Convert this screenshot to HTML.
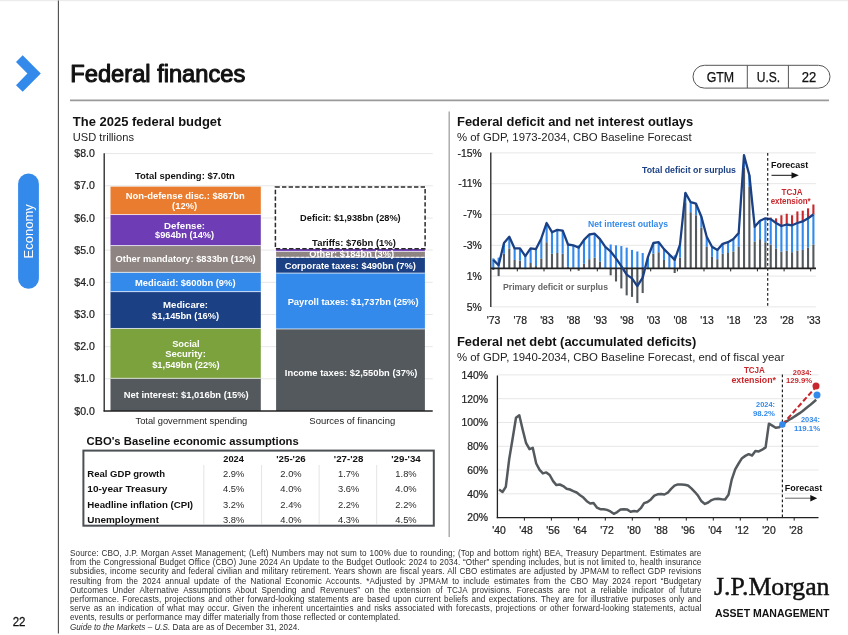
<!DOCTYPE html>
<html lang="en"><head><meta charset="utf-8"><title>Federal finances</title>
<style>
html,body{margin:0;padding:0;background:#fff;}
body{width:848px;height:635px;overflow:hidden;position:relative;font-family:"Liberation Sans",Arial,sans-serif;}
svg{position:absolute;left:0;top:0;will-change:transform;}
svg text{font-family:"Liberation Sans",Arial,sans-serif;}
#foot{position:absolute;left:70px;top:549.25px;width:631.5px;font-size:8.15px;letter-spacing:0.1px;line-height:9.2px;color:#2e2e2e;will-change:transform;}
.fl{text-align:justify;text-align-last:justify;white-space:nowrap;height:9.2px;overflow:visible;}
.fl.last{text-align:left;text-align-last:left;}
</style></head><body>
<svg width="848" height="635" viewBox="0 0 848 635">
<rect x="0" y="0" width="848" height="1.2" fill="#ECECEC"/>
<line x1="58.4" y1="0.5" x2="58.4" y2="633.5" stroke="#4a4a4a" stroke-width="1.1"/>
<polygon points="22.7,55.2 40.8,73.4 22.7,91.8 16,85.2 27.4,73.4 16,61.9" fill="#338AEA"/>
<text x="70.3" y="82.2" font-size="23.5" font-weight="normal" fill="#111" text-anchor="start" textLength="175" lengthAdjust="spacingAndGlyphs" stroke="#111" stroke-width="1.05" stroke-linejoin="round">Federal finances</text>
<line x1="70" y1="100.4" x2="829" y2="100.4" stroke="#9a9a9a" stroke-width="1.6"/>
<rect x="693" y="65.3" width="137" height="22.8" rx="11.4" fill="#fff" stroke="#555" stroke-width="1"/>
<line x1="747.3" y1="65.3" x2="747.3" y2="88.1" stroke="#555" stroke-width="1"/>
<line x1="788.4" y1="65.3" x2="788.4" y2="88.1" stroke="#555" stroke-width="1"/>
<text x="720.4" y="82.3" font-size="14" font-weight="normal" fill="#111" text-anchor="middle" textLength="27.5" lengthAdjust="spacingAndGlyphs" stroke="#111" stroke-width="0.25">GTM</text>
<text x="768.4" y="82.3" font-size="14" font-weight="normal" fill="#111" text-anchor="middle" textLength="23.4" lengthAdjust="spacingAndGlyphs" stroke="#111" stroke-width="0.25">U.S.</text>
<text x="809" y="82.3" font-size="14" font-weight="normal" fill="#111" text-anchor="middle" textLength="14.5" lengthAdjust="spacingAndGlyphs" stroke="#111" stroke-width="0.25">22</text>
<rect x="18.1" y="173.5" width="20.8" height="115.3" rx="10.4" fill="#338AEA"/>
<text transform="translate(33.4,231.4) rotate(-90)" font-size="12.6" fill="#fff" text-anchor="middle" textLength="54.3" lengthAdjust="spacingAndGlyphs">Economy</text>
<text x="12.7" y="626.2" font-size="13" font-weight="normal" fill="#111" text-anchor="start" textLength="12.8" lengthAdjust="spacingAndGlyphs" stroke="#111" stroke-width="0.3">22</text>
<line x1="449.2" y1="111.5" x2="449.2" y2="537" stroke="#a6a6a6" stroke-width="1.4"/>
<text x="72.8" y="125.5" font-size="13" font-weight="bold" fill="#111" text-anchor="start" textLength="148.6" lengthAdjust="spacingAndGlyphs" >The 2025 federal budget</text>
<text x="72.8" y="141" font-size="10.5" font-weight="normal" fill="#222" text-anchor="start" textLength="61.2" lengthAdjust="spacingAndGlyphs" >USD trillions</text>
<text x="94.8" y="414.6" font-size="10.2" font-weight="normal" fill="#222" text-anchor="end" textLength="20.5" lengthAdjust="spacingAndGlyphs" stroke="#222" stroke-width="0.22">$0.0</text>
<line x1="104.2" y1="378.8" x2="432.7" y2="378.8" stroke="#E7E7E7" stroke-width="1"/>
<text x="94.8" y="382.43" font-size="10.2" font-weight="normal" fill="#222" text-anchor="end" textLength="20.5" lengthAdjust="spacingAndGlyphs" stroke="#222" stroke-width="0.22">$1.0</text>
<line x1="104.2" y1="346.7" x2="432.7" y2="346.7" stroke="#E7E7E7" stroke-width="1"/>
<text x="94.8" y="350.26" font-size="10.2" font-weight="normal" fill="#222" text-anchor="end" textLength="20.5" lengthAdjust="spacingAndGlyphs" stroke="#222" stroke-width="0.22">$2.0</text>
<line x1="104.2" y1="314.5" x2="432.7" y2="314.5" stroke="#E7E7E7" stroke-width="1"/>
<text x="94.8" y="318.09000000000003" font-size="10.2" font-weight="normal" fill="#222" text-anchor="end" textLength="20.5" lengthAdjust="spacingAndGlyphs" stroke="#222" stroke-width="0.22">$3.0</text>
<line x1="104.2" y1="282.3" x2="432.7" y2="282.3" stroke="#E7E7E7" stroke-width="1"/>
<text x="94.8" y="285.92" font-size="10.2" font-weight="normal" fill="#222" text-anchor="end" textLength="20.5" lengthAdjust="spacingAndGlyphs" stroke="#222" stroke-width="0.22">$4.0</text>
<line x1="104.2" y1="250.1" x2="432.7" y2="250.1" stroke="#E7E7E7" stroke-width="1"/>
<text x="94.8" y="253.74999999999997" font-size="10.2" font-weight="normal" fill="#222" text-anchor="end" textLength="20.5" lengthAdjust="spacingAndGlyphs" stroke="#222" stroke-width="0.22">$5.0</text>
<line x1="104.2" y1="218.0" x2="432.7" y2="218.0" stroke="#E7E7E7" stroke-width="1"/>
<text x="94.8" y="221.57999999999998" font-size="10.2" font-weight="normal" fill="#222" text-anchor="end" textLength="20.5" lengthAdjust="spacingAndGlyphs" stroke="#222" stroke-width="0.22">$6.0</text>
<line x1="104.2" y1="185.8" x2="432.7" y2="185.8" stroke="#E7E7E7" stroke-width="1"/>
<text x="94.8" y="189.41" font-size="10.2" font-weight="normal" fill="#222" text-anchor="end" textLength="20.5" lengthAdjust="spacingAndGlyphs" stroke="#222" stroke-width="0.22">$7.0</text>
<line x1="104.2" y1="153.6" x2="432.7" y2="153.6" stroke="#E7E7E7" stroke-width="1"/>
<text x="94.8" y="157.23999999999998" font-size="10.2" font-weight="normal" fill="#222" text-anchor="end" textLength="20.5" lengthAdjust="spacingAndGlyphs" stroke="#222" stroke-width="0.22">$8.0</text>
<rect x="110.5" y="378.32" width="150.3" height="32.68" fill="#54595D"/>
<rect x="110.5" y="328.48" width="150.3" height="49.83" fill="#7BA23D"/>
<rect x="110.5" y="291.65" width="150.3" height="36.83" fill="#1B4084"/>
<rect x="110.5" y="272.35" width="150.3" height="19.30" fill="#338AEA"/>
<rect x="110.5" y="245.55" width="150.3" height="26.80" fill="#8E8482"/>
<rect x="110.5" y="214.54" width="150.3" height="31.01" fill="#6E3CB4"/>
<rect x="110.5" y="186.65" width="150.3" height="27.89" fill="#E97C2F"/>
<line x1="110.5" y1="378.32" x2="260.8" y2="378.32" stroke="#fff" stroke-width="0.7"/>
<line x1="110.5" y1="328.48" x2="260.8" y2="328.48" stroke="#fff" stroke-width="0.7"/>
<line x1="110.5" y1="291.65" x2="260.8" y2="291.65" stroke="#fff" stroke-width="0.7"/>
<line x1="110.5" y1="272.35" x2="260.8" y2="272.35" stroke="#fff" stroke-width="0.7"/>
<line x1="110.5" y1="245.55" x2="260.8" y2="245.55" stroke="#fff" stroke-width="0.7"/>
<line x1="110.5" y1="214.54" x2="260.8" y2="214.54" stroke="#fff" stroke-width="0.7"/>
<rect x="276.1" y="328.97" width="148.79999999999995" height="82.03" fill="#54595D"/>
<rect x="276.1" y="273.09" width="148.79999999999995" height="55.88" fill="#338AEA"/>
<rect x="276.1" y="257.32" width="148.79999999999995" height="15.76" fill="#1B4084"/>
<rect x="276.1" y="251.40" width="148.79999999999995" height="5.92" fill="#8E8482"/>
<rect x="276.1" y="248.96" width="148.79999999999995" height="2.44" fill="#6E3CB4"/>
<line x1="276.1" y1="328.97" x2="424.9" y2="328.97" stroke="#fff" stroke-width="0.7"/>
<line x1="276.1" y1="273.09" x2="424.9" y2="273.09" stroke="#fff" stroke-width="0.7"/>
<line x1="276.1" y1="257.32" x2="424.9" y2="257.32" stroke="#fff" stroke-width="0.7"/>
<line x1="276.1" y1="251.40" x2="424.9" y2="251.40" stroke="#fff" stroke-width="0.7"/>
<line x1="276.1" y1="257.32" x2="424.9" y2="257.32" stroke="#fff" stroke-width="0.8" stroke-dasharray="3 2"/>
<rect x="275.4" y="186.91" width="149.7" height="61.85" fill="#fff" stroke="#2a2a2a" stroke-width="1.5" stroke-dasharray="4.4 2.2"/>
<line x1="104.2" y1="153.2" x2="104.2" y2="411.6" stroke="#222" stroke-width="1.3"/>
<line x1="103.60000000000001" y1="411.0" x2="432.7" y2="411.0" stroke="#222" stroke-width="1.3"/>
<text x="184.9" y="178.6" font-size="9.2" font-weight="bold" fill="#111" text-anchor="middle" textLength="100" lengthAdjust="spacingAndGlyphs" >Total spending: $7.0tn</text>
<text x="185.3" y="198.7" font-size="9.2" font-weight="bold" fill="#fff" text-anchor="middle" textLength="119" lengthAdjust="spacingAndGlyphs" >Non-defense disc.: $867bn</text>
<text x="184.6" y="209.2" font-size="9.2" font-weight="bold" fill="#fff" text-anchor="middle" textLength="25" lengthAdjust="spacingAndGlyphs" >(12%)</text>
<text x="184.6" y="228.7" font-size="9.2" font-weight="bold" fill="#fff" text-anchor="middle" textLength="41" lengthAdjust="spacingAndGlyphs" >Defense:</text>
<text x="184.6" y="238.1" font-size="9.2" font-weight="bold" fill="#fff" text-anchor="middle" textLength="59" lengthAdjust="spacingAndGlyphs" >$964bn (14%)</text>
<text x="185.6" y="262.4" font-size="9.2" font-weight="bold" fill="#fff" text-anchor="middle" textLength="140" lengthAdjust="spacingAndGlyphs" >Other mandatory: $833bn (12%)</text>
<text x="185.3" y="285.7" font-size="9.2" font-weight="bold" fill="#fff" text-anchor="middle" textLength="100.5" lengthAdjust="spacingAndGlyphs" >Medicaid: $600bn (9%)</text>
<text x="185.6" y="308.1" font-size="9.2" font-weight="bold" fill="#fff" text-anchor="middle" textLength="45" lengthAdjust="spacingAndGlyphs" >Medicare:</text>
<text x="185.6" y="318.5" font-size="9.2" font-weight="bold" fill="#fff" text-anchor="middle" textLength="67" lengthAdjust="spacingAndGlyphs" >$1,145bn (16%)</text>
<text x="185.9" y="347.0" font-size="9.2" font-weight="bold" fill="#fff" text-anchor="middle" textLength="27.5" lengthAdjust="spacingAndGlyphs" >Social</text>
<text x="185.5" y="357.1" font-size="9.2" font-weight="bold" fill="#fff" text-anchor="middle" textLength="40.7" lengthAdjust="spacingAndGlyphs" >Security:</text>
<text x="185.9" y="368.1" font-size="9.2" font-weight="bold" fill="#fff" text-anchor="middle" textLength="67.5" lengthAdjust="spacingAndGlyphs" >$1,549bn (22%)</text>
<text x="186.2" y="398.1" font-size="9.2" font-weight="bold" fill="#fff" text-anchor="middle" textLength="125" lengthAdjust="spacingAndGlyphs" >Net interest: $1,016bn (15%)</text>
<text x="350.4" y="221.4" font-size="9.2" font-weight="bold" fill="#111" text-anchor="middle" textLength="100.6" lengthAdjust="spacingAndGlyphs" >Deficit: $1,938bn (28%)</text>
<text x="354" y="245.5" font-size="9.2" font-weight="bold" fill="#111" text-anchor="middle" textLength="83.8" lengthAdjust="spacingAndGlyphs" >Tariffs: $76bn (1%)</text>
<text x="351.7" y="257.3" font-size="9.2" font-weight="bold" fill="#fff" text-anchor="middle" textLength="85" lengthAdjust="spacingAndGlyphs" >Other: $184bn (3%)</text>
<text x="350.3" y="269.0" font-size="9.2" font-weight="bold" fill="#fff" text-anchor="middle" textLength="131.3" lengthAdjust="spacingAndGlyphs" >Corporate taxes: $490bn (7%)</text>
<text x="353.1" y="304.9" font-size="9.2" font-weight="bold" fill="#fff" text-anchor="middle" textLength="130.9" lengthAdjust="spacingAndGlyphs" >Payroll taxes: $1,737bn (25%)</text>
<text x="351.1" y="375.7" font-size="9.2" font-weight="bold" fill="#fff" text-anchor="middle" textLength="132.5" lengthAdjust="spacingAndGlyphs" >Income taxes: $2,550bn (37%)</text>
<text x="191.4" y="423.8" font-size="9.6" font-weight="normal" fill="#222" text-anchor="middle" textLength="111.8" lengthAdjust="spacingAndGlyphs" >Total government spending</text>
<text x="352.3" y="424" font-size="9.6" font-weight="normal" fill="#222" text-anchor="middle" textLength="85.9" lengthAdjust="spacingAndGlyphs" >Sources of financing</text>
<text x="86.6" y="444.6" font-size="11.3" font-weight="bold" fill="#111" text-anchor="start" textLength="212.2" lengthAdjust="spacingAndGlyphs" >CBO's Baseline economic assumptions</text>
<rect x="83.4" y="450.6" width="350.4" height="75.1" fill="#fff" stroke="#4c5054" stroke-width="2"/>
<line x1="203.8" y1="465" x2="203.8" y2="524" stroke="#dcdcdc" stroke-width="0.8"/>
<line x1="261.6" y1="465" x2="261.6" y2="524" stroke="#dcdcdc" stroke-width="0.8"/>
<line x1="319.1" y1="465" x2="319.1" y2="524" stroke="#dcdcdc" stroke-width="0.8"/>
<line x1="376.7" y1="465" x2="376.7" y2="524" stroke="#dcdcdc" stroke-width="0.8"/>
<text x="233.6" y="462.4" font-size="9.6" font-weight="bold" fill="#111" text-anchor="middle" textLength="20.5" lengthAdjust="spacingAndGlyphs" >2024</text>
<text x="291.0" y="462.4" font-size="9.6" font-weight="bold" fill="#111" text-anchor="middle" textLength="29.5" lengthAdjust="spacingAndGlyphs" >'25-'26</text>
<text x="348.6" y="462.4" font-size="9.6" font-weight="bold" fill="#111" text-anchor="middle" textLength="29.5" lengthAdjust="spacingAndGlyphs" >'27-'28</text>
<text x="406.0" y="462.4" font-size="9.6" font-weight="bold" fill="#111" text-anchor="middle" textLength="29.5" lengthAdjust="spacingAndGlyphs" >'29-'34</text>
<text x="87.3" y="476.9" font-size="9.7" font-weight="bold" fill="#111" text-anchor="start" textLength="77.8" lengthAdjust="spacingAndGlyphs" >Real GDP growth</text>
<text x="233.6" y="476.9" font-size="9.7" font-weight="normal" fill="#2a2a2a" text-anchor="middle" textLength="21.3" lengthAdjust="spacingAndGlyphs" >2.9%</text>
<text x="291.0" y="476.9" font-size="9.7" font-weight="normal" fill="#2a2a2a" text-anchor="middle" textLength="21.3" lengthAdjust="spacingAndGlyphs" >2.0%</text>
<text x="348.6" y="476.9" font-size="9.7" font-weight="normal" fill="#2a2a2a" text-anchor="middle" textLength="21.3" lengthAdjust="spacingAndGlyphs" >1.7%</text>
<text x="406.0" y="476.9" font-size="9.7" font-weight="normal" fill="#2a2a2a" text-anchor="middle" textLength="21.3" lengthAdjust="spacingAndGlyphs" >1.8%</text>
<text x="87.3" y="492.4" font-size="9.7" font-weight="bold" fill="#111" text-anchor="start" textLength="80.2" lengthAdjust="spacingAndGlyphs" >10-year Treasury</text>
<text x="233.6" y="492.4" font-size="9.7" font-weight="normal" fill="#2a2a2a" text-anchor="middle" textLength="21.3" lengthAdjust="spacingAndGlyphs" >4.5%</text>
<text x="291.0" y="492.4" font-size="9.7" font-weight="normal" fill="#2a2a2a" text-anchor="middle" textLength="21.3" lengthAdjust="spacingAndGlyphs" >4.0%</text>
<text x="348.6" y="492.4" font-size="9.7" font-weight="normal" fill="#2a2a2a" text-anchor="middle" textLength="21.3" lengthAdjust="spacingAndGlyphs" >3.6%</text>
<text x="406.0" y="492.4" font-size="9.7" font-weight="normal" fill="#2a2a2a" text-anchor="middle" textLength="21.3" lengthAdjust="spacingAndGlyphs" >4.0%</text>
<text x="87.3" y="507.9" font-size="9.7" font-weight="bold" fill="#111" text-anchor="start" textLength="105.8" lengthAdjust="spacingAndGlyphs" >Headline inflation (CPI)</text>
<text x="233.6" y="507.9" font-size="9.7" font-weight="normal" fill="#2a2a2a" text-anchor="middle" textLength="21.3" lengthAdjust="spacingAndGlyphs" >3.2%</text>
<text x="291.0" y="507.9" font-size="9.7" font-weight="normal" fill="#2a2a2a" text-anchor="middle" textLength="21.3" lengthAdjust="spacingAndGlyphs" >2.4%</text>
<text x="348.6" y="507.9" font-size="9.7" font-weight="normal" fill="#2a2a2a" text-anchor="middle" textLength="21.3" lengthAdjust="spacingAndGlyphs" >2.2%</text>
<text x="406.0" y="507.9" font-size="9.7" font-weight="normal" fill="#2a2a2a" text-anchor="middle" textLength="21.3" lengthAdjust="spacingAndGlyphs" >2.2%</text>
<text x="87.3" y="523.4" font-size="9.7" font-weight="bold" fill="#111" text-anchor="start" textLength="71.7" lengthAdjust="spacingAndGlyphs" >Unemployment</text>
<text x="233.6" y="523.4" font-size="9.7" font-weight="normal" fill="#2a2a2a" text-anchor="middle" textLength="21.3" lengthAdjust="spacingAndGlyphs" >3.8%</text>
<text x="291.0" y="523.4" font-size="9.7" font-weight="normal" fill="#2a2a2a" text-anchor="middle" textLength="21.3" lengthAdjust="spacingAndGlyphs" >4.0%</text>
<text x="348.6" y="523.4" font-size="9.7" font-weight="normal" fill="#2a2a2a" text-anchor="middle" textLength="21.3" lengthAdjust="spacingAndGlyphs" >4.3%</text>
<text x="406.0" y="523.4" font-size="9.7" font-weight="normal" fill="#2a2a2a" text-anchor="middle" textLength="21.3" lengthAdjust="spacingAndGlyphs" >4.5%</text>
<text x="457" y="125.5" font-size="13" font-weight="bold" fill="#111" text-anchor="start" textLength="236.2" lengthAdjust="spacingAndGlyphs" >Federal deficit and net interest outlays</text>
<text x="457" y="141" font-size="10.5" font-weight="normal" fill="#222" text-anchor="start" textLength="234.6" lengthAdjust="spacingAndGlyphs" >% of GDP, 1973-2034, CBO Baseline Forecast</text>
<line x1="490.8" y1="152.9" x2="815.8" y2="152.9" stroke="#E7E7E7" stroke-width="1"/>
<text x="481.8" y="156.59999999999997" font-size="10.4" font-weight="normal" fill="#222" text-anchor="end" stroke="#222" stroke-width="0.22">-15%</text>
<line x1="490.8" y1="183.7" x2="815.8" y2="183.7" stroke="#E7E7E7" stroke-width="1"/>
<text x="481.8" y="187.39999999999998" font-size="10.4" font-weight="normal" fill="#222" text-anchor="end" stroke="#222" stroke-width="0.22">-11%</text>
<line x1="490.8" y1="214.5" x2="815.8" y2="214.5" stroke="#E7E7E7" stroke-width="1"/>
<text x="481.8" y="218.19999999999996" font-size="10.4" font-weight="normal" fill="#222" text-anchor="end" stroke="#222" stroke-width="0.22">-7%</text>
<line x1="490.8" y1="245.3" x2="815.8" y2="245.3" stroke="#E7E7E7" stroke-width="1"/>
<text x="481.8" y="248.99999999999997" font-size="10.4" font-weight="normal" fill="#222" text-anchor="end" stroke="#222" stroke-width="0.22">-3%</text>
<line x1="490.8" y1="276.1" x2="815.8" y2="276.1" stroke="#E7E7E7" stroke-width="1"/>
<text x="481.8" y="279.79999999999995" font-size="10.4" font-weight="normal" fill="#222" text-anchor="end" stroke="#222" stroke-width="0.22">1%</text>
<line x1="490.8" y1="306.9" x2="815.8" y2="306.9" stroke="#E7E7E7" stroke-width="1"/>
<text x="481.8" y="310.59999999999997" font-size="10.4" font-weight="normal" fill="#222" text-anchor="end" stroke="#222" stroke-width="0.22">5%</text>
<rect x="492.25" y="268.40" width="2.1" height="1.54" fill="#54595D"/>
<rect x="492.25" y="258.39" width="2.1" height="10.01" fill="#338AEA"/>
<rect x="497.58" y="268.40" width="2.1" height="7.70" fill="#54595D"/>
<rect x="497.58" y="257.62" width="2.1" height="10.78" fill="#338AEA"/>
<rect x="502.92" y="253.77" width="2.1" height="14.63" fill="#54595D"/>
<rect x="502.92" y="242.99" width="2.1" height="10.78" fill="#338AEA"/>
<rect x="508.25" y="248.38" width="2.1" height="20.02" fill="#54595D"/>
<rect x="508.25" y="236.83" width="2.1" height="11.55" fill="#338AEA"/>
<rect x="513.59" y="259.93" width="2.1" height="8.47" fill="#54595D"/>
<rect x="513.59" y="248.38" width="2.1" height="11.55" fill="#338AEA"/>
<rect x="518.93" y="260.70" width="2.1" height="7.70" fill="#54595D"/>
<rect x="518.93" y="248.38" width="2.1" height="12.32" fill="#338AEA"/>
<rect x="524.26" y="268.40" width="2.1" height="0.77" fill="#54595D"/>
<rect x="524.26" y="255.31" width="2.1" height="13.09" fill="#338AEA"/>
<rect x="529.60" y="263.01" width="2.1" height="5.39" fill="#54595D"/>
<rect x="529.60" y="248.38" width="2.1" height="14.63" fill="#338AEA"/>
<rect x="534.93" y="266.09" width="2.1" height="2.31" fill="#54595D"/>
<rect x="534.93" y="249.15" width="2.1" height="16.94" fill="#338AEA"/>
<rect x="540.27" y="258.39" width="2.1" height="10.01" fill="#54595D"/>
<rect x="540.27" y="238.37" width="2.1" height="20.02" fill="#338AEA"/>
<rect x="545.60" y="242.22" width="2.1" height="26.18" fill="#54595D"/>
<rect x="545.60" y="222.97" width="2.1" height="19.25" fill="#338AEA"/>
<rect x="550.94" y="253.77" width="2.1" height="14.63" fill="#54595D"/>
<rect x="550.94" y="232.21" width="2.1" height="21.56" fill="#338AEA"/>
<rect x="556.27" y="253.00" width="2.1" height="15.40" fill="#54595D"/>
<rect x="556.27" y="229.90" width="2.1" height="23.10" fill="#338AEA"/>
<rect x="561.61" y="253.77" width="2.1" height="14.63" fill="#54595D"/>
<rect x="561.61" y="230.67" width="2.1" height="23.10" fill="#338AEA"/>
<rect x="566.94" y="266.86" width="2.1" height="1.54" fill="#54595D"/>
<rect x="566.94" y="244.53" width="2.1" height="22.33" fill="#338AEA"/>
<rect x="572.28" y="267.63" width="2.1" height="0.77" fill="#54595D"/>
<rect x="572.28" y="245.30" width="2.1" height="22.33" fill="#338AEA"/>
<rect x="577.61" y="268.40" width="2.1" height="2.31" fill="#54595D"/>
<rect x="577.61" y="245.30" width="2.1" height="23.10" fill="#338AEA"/>
<rect x="582.95" y="263.78" width="2.1" height="4.62" fill="#54595D"/>
<rect x="582.95" y="239.91" width="2.1" height="23.87" fill="#338AEA"/>
<rect x="588.28" y="259.16" width="2.1" height="9.24" fill="#54595D"/>
<rect x="588.28" y="234.52" width="2.1" height="24.64" fill="#338AEA"/>
<rect x="593.62" y="257.62" width="2.1" height="10.78" fill="#54595D"/>
<rect x="593.62" y="233.75" width="2.1" height="23.87" fill="#338AEA"/>
<rect x="598.95" y="261.47" width="2.1" height="6.93" fill="#54595D"/>
<rect x="598.95" y="239.14" width="2.1" height="22.33" fill="#338AEA"/>
<rect x="604.29" y="268.40" width="2.1" height="0.00" fill="#54595D"/>
<rect x="604.29" y="246.84" width="2.1" height="21.56" fill="#338AEA"/>
<rect x="609.62" y="268.40" width="2.1" height="6.93" fill="#54595D"/>
<rect x="609.62" y="244.53" width="2.1" height="23.87" fill="#338AEA"/>
<rect x="614.96" y="268.40" width="2.1" height="13.09" fill="#54595D"/>
<rect x="614.96" y="245.30" width="2.1" height="23.10" fill="#338AEA"/>
<rect x="620.29" y="268.40" width="2.1" height="20.02" fill="#54595D"/>
<rect x="620.29" y="246.07" width="2.1" height="22.33" fill="#338AEA"/>
<rect x="625.62" y="268.40" width="2.1" height="26.95" fill="#54595D"/>
<rect x="625.62" y="247.61" width="2.1" height="20.79" fill="#338AEA"/>
<rect x="630.96" y="268.40" width="2.1" height="28.49" fill="#54595D"/>
<rect x="630.96" y="249.92" width="2.1" height="18.48" fill="#338AEA"/>
<rect x="636.30" y="268.40" width="2.1" height="34.65" fill="#54595D"/>
<rect x="636.30" y="251.46" width="2.1" height="16.94" fill="#338AEA"/>
<rect x="641.63" y="268.40" width="2.1" height="24.64" fill="#54595D"/>
<rect x="641.63" y="253.00" width="2.1" height="15.40" fill="#338AEA"/>
<rect x="646.97" y="268.40" width="2.1" height="0.77" fill="#54595D"/>
<rect x="646.97" y="256.08" width="2.1" height="12.32" fill="#338AEA"/>
<rect x="652.30" y="253.77" width="2.1" height="14.63" fill="#54595D"/>
<rect x="652.30" y="242.99" width="2.1" height="10.78" fill="#338AEA"/>
<rect x="657.63" y="252.23" width="2.1" height="16.17" fill="#54595D"/>
<rect x="657.63" y="242.22" width="2.1" height="10.01" fill="#338AEA"/>
<rect x="662.97" y="259.93" width="2.1" height="8.47" fill="#54595D"/>
<rect x="662.97" y="249.15" width="2.1" height="10.78" fill="#338AEA"/>
<rect x="668.31" y="267.63" width="2.1" height="0.77" fill="#54595D"/>
<rect x="668.31" y="254.54" width="2.1" height="13.09" fill="#338AEA"/>
<rect x="673.64" y="268.40" width="2.1" height="4.62" fill="#54595D"/>
<rect x="673.64" y="255.31" width="2.1" height="13.09" fill="#338AEA"/>
<rect x="678.98" y="257.62" width="2.1" height="10.78" fill="#54595D"/>
<rect x="678.98" y="244.53" width="2.1" height="13.09" fill="#338AEA"/>
<rect x="684.31" y="202.95" width="2.1" height="65.45" fill="#54595D"/>
<rect x="684.31" y="192.94" width="2.1" height="10.01" fill="#338AEA"/>
<rect x="689.65" y="212.19" width="2.1" height="56.21" fill="#54595D"/>
<rect x="689.65" y="202.18" width="2.1" height="10.01" fill="#338AEA"/>
<rect x="694.98" y="215.27" width="2.1" height="53.13" fill="#54595D"/>
<rect x="694.98" y="203.72" width="2.1" height="11.55" fill="#338AEA"/>
<rect x="700.32" y="227.59" width="2.1" height="40.81" fill="#54595D"/>
<rect x="700.32" y="216.81" width="2.1" height="10.78" fill="#338AEA"/>
<rect x="705.65" y="246.84" width="2.1" height="21.56" fill="#54595D"/>
<rect x="705.65" y="236.83" width="2.1" height="10.01" fill="#338AEA"/>
<rect x="710.99" y="256.85" width="2.1" height="11.55" fill="#54595D"/>
<rect x="710.99" y="246.84" width="2.1" height="10.01" fill="#338AEA"/>
<rect x="716.32" y="259.16" width="2.1" height="9.24" fill="#54595D"/>
<rect x="716.32" y="249.92" width="2.1" height="9.24" fill="#338AEA"/>
<rect x="721.66" y="253.77" width="2.1" height="14.63" fill="#54595D"/>
<rect x="721.66" y="243.76" width="2.1" height="10.01" fill="#338AEA"/>
<rect x="726.99" y="253.00" width="2.1" height="15.40" fill="#54595D"/>
<rect x="726.99" y="242.22" width="2.1" height="10.78" fill="#338AEA"/>
<rect x="732.33" y="251.46" width="2.1" height="16.94" fill="#54595D"/>
<rect x="732.33" y="239.14" width="2.1" height="12.32" fill="#338AEA"/>
<rect x="737.66" y="246.84" width="2.1" height="21.56" fill="#54595D"/>
<rect x="737.66" y="232.98" width="2.1" height="13.86" fill="#338AEA"/>
<rect x="743.00" y="167.53" width="2.1" height="100.87" fill="#54595D"/>
<rect x="743.00" y="155.21" width="2.1" height="12.32" fill="#338AEA"/>
<rect x="748.33" y="186.78" width="2.1" height="81.62" fill="#54595D"/>
<rect x="748.33" y="175.23" width="2.1" height="11.55" fill="#338AEA"/>
<rect x="753.67" y="241.45" width="2.1" height="26.95" fill="#54595D"/>
<rect x="753.67" y="226.82" width="2.1" height="14.63" fill="#338AEA"/>
<rect x="759.00" y="239.14" width="2.1" height="29.26" fill="#54595D"/>
<rect x="759.00" y="220.66" width="2.1" height="18.48" fill="#338AEA"/>
<rect x="764.34" y="242.22" width="2.1" height="26.18" fill="#54595D"/>
<rect x="764.34" y="218.35" width="2.1" height="23.87" fill="#338AEA"/>
<rect x="769.67" y="244.53" width="2.1" height="23.87" fill="#54595D"/>
<rect x="769.67" y="219.12" width="2.1" height="25.41" fill="#338AEA"/>
<rect x="769.67" y="217.58" width="2.1" height="1.54" fill="#C8282D"/>
<rect x="775.01" y="248.38" width="2.1" height="20.02" fill="#54595D"/>
<rect x="775.01" y="222.97" width="2.1" height="25.41" fill="#338AEA"/>
<rect x="775.01" y="218.35" width="2.1" height="4.62" fill="#C8282D"/>
<rect x="780.34" y="251.46" width="2.1" height="16.94" fill="#54595D"/>
<rect x="780.34" y="226.05" width="2.1" height="25.41" fill="#338AEA"/>
<rect x="780.34" y="215.27" width="2.1" height="10.78" fill="#C8282D"/>
<rect x="785.68" y="250.69" width="2.1" height="17.71" fill="#54595D"/>
<rect x="785.68" y="224.51" width="2.1" height="26.18" fill="#338AEA"/>
<rect x="785.68" y="213.73" width="2.1" height="10.78" fill="#C8282D"/>
<rect x="791.01" y="252.23" width="2.1" height="16.17" fill="#54595D"/>
<rect x="791.01" y="225.28" width="2.1" height="26.95" fill="#338AEA"/>
<rect x="791.01" y="215.27" width="2.1" height="10.01" fill="#C8282D"/>
<rect x="796.35" y="250.69" width="2.1" height="17.71" fill="#54595D"/>
<rect x="796.35" y="222.97" width="2.1" height="27.72" fill="#338AEA"/>
<rect x="796.35" y="211.42" width="2.1" height="11.55" fill="#C8282D"/>
<rect x="801.68" y="249.92" width="2.1" height="18.48" fill="#54595D"/>
<rect x="801.68" y="221.43" width="2.1" height="28.49" fill="#338AEA"/>
<rect x="801.68" y="210.65" width="2.1" height="10.78" fill="#C8282D"/>
<rect x="807.02" y="247.61" width="2.1" height="20.79" fill="#54595D"/>
<rect x="807.02" y="218.35" width="2.1" height="29.26" fill="#338AEA"/>
<rect x="807.02" y="208.34" width="2.1" height="10.01" fill="#C8282D"/>
<rect x="812.35" y="244.53" width="2.1" height="23.87" fill="#54595D"/>
<rect x="812.35" y="214.50" width="2.1" height="30.03" fill="#338AEA"/>
<rect x="812.35" y="204.49" width="2.1" height="10.01" fill="#C8282D"/>
<line x1="490.8" y1="268.4" x2="816" y2="268.4" stroke="#222" stroke-width="1.6"/>
<text x="493.6" y="323.7" font-size="10.4" font-weight="normal" fill="#222" text-anchor="middle" stroke="#222" stroke-width="0.22">'73</text>
<line x1="517.3" y1="268.4" x2="517.3" y2="271.4" stroke="#222" stroke-width="1"/>
<text x="520.3" y="323.7" font-size="10.4" font-weight="normal" fill="#222" text-anchor="middle" stroke="#222" stroke-width="0.22">'78</text>
<line x1="544.0" y1="268.4" x2="544.0" y2="271.4" stroke="#222" stroke-width="1"/>
<text x="546.9" y="323.7" font-size="10.4" font-weight="normal" fill="#222" text-anchor="middle" stroke="#222" stroke-width="0.22">'83</text>
<line x1="570.7" y1="268.4" x2="570.7" y2="271.4" stroke="#222" stroke-width="1"/>
<text x="573.6" y="323.7" font-size="10.4" font-weight="normal" fill="#222" text-anchor="middle" stroke="#222" stroke-width="0.22">'88</text>
<line x1="597.3" y1="268.4" x2="597.3" y2="271.4" stroke="#222" stroke-width="1"/>
<text x="600.3" y="323.7" font-size="10.4" font-weight="normal" fill="#222" text-anchor="middle" stroke="#222" stroke-width="0.22">'93</text>
<line x1="624.0" y1="268.4" x2="624.0" y2="271.4" stroke="#222" stroke-width="1"/>
<text x="627.0" y="323.7" font-size="10.4" font-weight="normal" fill="#222" text-anchor="middle" stroke="#222" stroke-width="0.22">'98</text>
<line x1="650.7" y1="268.4" x2="650.7" y2="271.4" stroke="#222" stroke-width="1"/>
<text x="653.6" y="323.7" font-size="10.4" font-weight="normal" fill="#222" text-anchor="middle" stroke="#222" stroke-width="0.22">'03</text>
<line x1="677.4" y1="268.4" x2="677.4" y2="271.4" stroke="#222" stroke-width="1"/>
<text x="680.3" y="323.7" font-size="10.4" font-weight="normal" fill="#222" text-anchor="middle" stroke="#222" stroke-width="0.22">'08</text>
<line x1="704.0" y1="268.4" x2="704.0" y2="271.4" stroke="#222" stroke-width="1"/>
<text x="707.0" y="323.7" font-size="10.4" font-weight="normal" fill="#222" text-anchor="middle" stroke="#222" stroke-width="0.22">'13</text>
<line x1="730.7" y1="268.4" x2="730.7" y2="271.4" stroke="#222" stroke-width="1"/>
<text x="733.7" y="323.7" font-size="10.4" font-weight="normal" fill="#222" text-anchor="middle" stroke="#222" stroke-width="0.22">'18</text>
<line x1="757.4" y1="268.4" x2="757.4" y2="271.4" stroke="#222" stroke-width="1"/>
<text x="760.3" y="323.7" font-size="10.4" font-weight="normal" fill="#222" text-anchor="middle" stroke="#222" stroke-width="0.22">'23</text>
<line x1="784.1" y1="268.4" x2="784.1" y2="271.4" stroke="#222" stroke-width="1"/>
<text x="787.0" y="323.7" font-size="10.4" font-weight="normal" fill="#222" text-anchor="middle" stroke="#222" stroke-width="0.22">'28</text>
<line x1="810.7" y1="268.4" x2="810.7" y2="271.4" stroke="#222" stroke-width="1"/>
<text x="813.7" y="323.7" font-size="10.4" font-weight="normal" fill="#222" text-anchor="middle" stroke="#222" stroke-width="0.22">'33</text>
<line x1="490.8" y1="152.6" x2="490.8" y2="307" stroke="#222" stroke-width="1.3"/>
<polyline points="493.3,259.9 498.6,265.3 504.0,243.0 509.3,236.8 514.6,248.4 520.0,248.4 525.3,256.1 530.6,248.4 536.0,249.1 541.3,238.4 546.6,223.0 552.0,232.2 557.3,229.9 562.7,230.7 568.0,244.5 573.3,245.3 578.7,247.6 584.0,239.9 589.3,234.5 594.7,233.7 600.0,239.1 605.3,246.8 610.7,251.5 616.0,258.4 621.3,266.1 626.7,274.6 632.0,278.4 637.3,286.1 642.7,277.6 648.0,256.8 653.4,243.0 658.7,242.2 664.0,249.1 669.4,254.5 674.7,259.9 680.0,244.5 685.4,192.9 690.7,202.2 696.0,203.7 701.4,216.8 706.7,236.8 712.0,246.8 717.4,249.9 722.7,243.8 728.0,242.2 733.4,239.1 738.7,233.0 744.0,155.2 749.4,175.2 754.7,226.8 760.0,220.7 765.4,218.3 770.7,219.1 776.1,223.0 781.4,226.0 786.7,224.5 792.1,225.3 797.4,223.0 802.7,221.4 808.1,218.3 813.4,214.5" fill="none" stroke="#1B4084" stroke-width="2.3" stroke-linejoin="round"/>
<line x1="767.7" y1="153" x2="767.7" y2="307" stroke="#222" stroke-width="1.2" stroke-dasharray="2.8 2.2"/>
<text x="771" y="168.2" font-size="8.8" font-weight="bold" fill="#111" text-anchor="start" textLength="37.2" lengthAdjust="spacingAndGlyphs" >Forecast</text>
<line x1="771.5" y1="175.3" x2="793" y2="175.3" stroke="#111" stroke-width="1"/><polygon points="791.5,172.2 798.8,175.3 791.5,178.4" fill="#111"/>
<text x="792" y="195" font-size="8.5" font-weight="bold" fill="#C8282D" text-anchor="middle" textLength="21" lengthAdjust="spacingAndGlyphs" >TCJA</text>
<text x="790.7" y="203.6" font-size="8.5" font-weight="bold" fill="#C8282D" text-anchor="middle" textLength="40" lengthAdjust="spacingAndGlyphs" >extension*</text>
<text x="642" y="173.4" font-size="8.6" font-weight="bold" fill="#1B4084" text-anchor="start" textLength="94" lengthAdjust="spacingAndGlyphs" >Total deficit or surplus</text>
<text x="588" y="227.0" font-size="8.6" font-weight="bold" fill="#338AEA" text-anchor="start" textLength="80" lengthAdjust="spacingAndGlyphs" >Net interest outlays</text>
<text x="503" y="289.6" font-size="8.6" font-weight="bold" fill="#666" text-anchor="start" textLength="105" lengthAdjust="spacingAndGlyphs" >Primary deficit or surplus</text>
<text x="457" y="345.8" font-size="13" font-weight="bold" fill="#111" text-anchor="start" textLength="239.2" lengthAdjust="spacingAndGlyphs" >Federal net debt (accumulated deficits)</text>
<text x="457" y="360.7" font-size="10.5" font-weight="normal" fill="#222" text-anchor="start" textLength="327.5" lengthAdjust="spacingAndGlyphs" >% of GDP, 1940-2034, CBO Baseline Forecast, end of fiscal year</text>
<text x="488" y="521.4" font-size="10.4" font-weight="normal" fill="#222" text-anchor="end" stroke="#222" stroke-width="0.22">20%</text>
<line x1="497.4" y1="493.8" x2="818.5" y2="493.8" stroke="#E7E7E7" stroke-width="1"/>
<text x="488" y="497.62000000000006" font-size="10.4" font-weight="normal" fill="#222" text-anchor="end" stroke="#222" stroke-width="0.22">40%</text>
<line x1="497.4" y1="470.0" x2="818.5" y2="470.0" stroke="#E7E7E7" stroke-width="1"/>
<text x="488" y="473.84000000000003" font-size="10.4" font-weight="normal" fill="#222" text-anchor="end" stroke="#222" stroke-width="0.22">60%</text>
<line x1="497.4" y1="446.3" x2="818.5" y2="446.3" stroke="#E7E7E7" stroke-width="1"/>
<text x="488" y="450.06" font-size="10.4" font-weight="normal" fill="#222" text-anchor="end" stroke="#222" stroke-width="0.22">80%</text>
<line x1="497.4" y1="422.5" x2="818.5" y2="422.5" stroke="#E7E7E7" stroke-width="1"/>
<text x="488" y="426.28000000000003" font-size="10.4" font-weight="normal" fill="#222" text-anchor="end" stroke="#222" stroke-width="0.22">100%</text>
<line x1="497.4" y1="398.7" x2="818.5" y2="398.7" stroke="#E7E7E7" stroke-width="1"/>
<text x="488" y="402.50000000000006" font-size="10.4" font-weight="normal" fill="#222" text-anchor="end" stroke="#222" stroke-width="0.22">120%</text>
<line x1="497.4" y1="374.9" x2="818.5" y2="374.9" stroke="#E7E7E7" stroke-width="1"/>
<text x="488" y="378.72" font-size="10.4" font-weight="normal" fill="#222" text-anchor="end" stroke="#222" stroke-width="0.22">140%</text>
<line x1="497.4" y1="375.5" x2="497.4" y2="518.2" stroke="#222" stroke-width="1.3"/>
<line x1="496.79999999999995" y1="517.6" x2="818.5" y2="517.6" stroke="#222" stroke-width="1.3"/>
<text x="499.1" y="534.4" font-size="10.4" font-weight="normal" fill="#222" text-anchor="middle" stroke="#222" stroke-width="0.22">'40</text>
<line x1="524.4" y1="517.6" x2="524.4" y2="520.6" stroke="#222" stroke-width="1"/>
<text x="526.1" y="534.4" font-size="10.4" font-weight="normal" fill="#222" text-anchor="middle" stroke="#222" stroke-width="0.22">'48</text>
<line x1="551.4" y1="517.6" x2="551.4" y2="520.6" stroke="#222" stroke-width="1"/>
<text x="553.1" y="534.4" font-size="10.4" font-weight="normal" fill="#222" text-anchor="middle" stroke="#222" stroke-width="0.22">'56</text>
<line x1="578.4" y1="517.6" x2="578.4" y2="520.6" stroke="#222" stroke-width="1"/>
<text x="580.1" y="534.4" font-size="10.4" font-weight="normal" fill="#222" text-anchor="middle" stroke="#222" stroke-width="0.22">'64</text>
<line x1="605.3" y1="517.6" x2="605.3" y2="520.6" stroke="#222" stroke-width="1"/>
<text x="607.0" y="534.4" font-size="10.4" font-weight="normal" fill="#222" text-anchor="middle" stroke="#222" stroke-width="0.22">'72</text>
<line x1="632.3" y1="517.6" x2="632.3" y2="520.6" stroke="#222" stroke-width="1"/>
<text x="634.0" y="534.4" font-size="10.4" font-weight="normal" fill="#222" text-anchor="middle" stroke="#222" stroke-width="0.22">'80</text>
<line x1="659.3" y1="517.6" x2="659.3" y2="520.6" stroke="#222" stroke-width="1"/>
<text x="661.0" y="534.4" font-size="10.4" font-weight="normal" fill="#222" text-anchor="middle" stroke="#222" stroke-width="0.22">'88</text>
<line x1="686.3" y1="517.6" x2="686.3" y2="520.6" stroke="#222" stroke-width="1"/>
<text x="688.0" y="534.4" font-size="10.4" font-weight="normal" fill="#222" text-anchor="middle" stroke="#222" stroke-width="0.22">'96</text>
<line x1="713.3" y1="517.6" x2="713.3" y2="520.6" stroke="#222" stroke-width="1"/>
<text x="715.0" y="534.4" font-size="10.4" font-weight="normal" fill="#222" text-anchor="middle" stroke="#222" stroke-width="0.22">'04</text>
<line x1="740.3" y1="517.6" x2="740.3" y2="520.6" stroke="#222" stroke-width="1"/>
<text x="742.0" y="534.4" font-size="10.4" font-weight="normal" fill="#222" text-anchor="middle" stroke="#222" stroke-width="0.22">'12</text>
<line x1="767.3" y1="517.6" x2="767.3" y2="520.6" stroke="#222" stroke-width="1"/>
<text x="768.9" y="534.4" font-size="10.4" font-weight="normal" fill="#222" text-anchor="middle" stroke="#222" stroke-width="0.22">'20</text>
<line x1="794.2" y1="517.6" x2="794.2" y2="520.6" stroke="#222" stroke-width="1"/>
<text x="795.9" y="534.4" font-size="10.4" font-weight="normal" fill="#222" text-anchor="middle" stroke="#222" stroke-width="0.22">'28</text>
<polyline points="499.1,489.5 502.5,492.0 505.8,486.8 509.2,459.1 512.6,438.7 516.0,417.8 519.3,415.2 522.7,429.7 526.1,443.2 529.5,449.2 532.8,447.9 536.2,463.5 539.6,469.9 542.9,473.4 546.3,472.4 549.7,475.0 553.1,481.1 556.4,485.1 559.8,484.5 563.2,486.1 566.6,488.7 569.9,489.5 573.3,491.1 576.7,492.5 580.1,495.2 583.4,497.6 586.8,501.2 590.2,503.5 593.5,503.0 596.9,507.6 600.3,509.2 603.7,509.2 607.0,509.9 610.4,511.4 613.8,513.8 617.2,512.1 620.5,509.6 623.9,509.2 627.3,509.6 630.6,511.7 634.0,511.1 637.4,511.4 640.8,508.2 644.1,503.1 647.5,502.0 650.9,499.4 654.3,495.6 657.6,494.3 661.0,493.9 664.4,494.5 667.8,492.7 671.1,488.9 674.5,485.7 677.9,484.4 681.2,484.5 684.6,484.7 688.0,485.5 691.4,488.4 694.7,491.8 698.1,495.8 701.5,501.3 704.9,503.9 708.2,502.5 711.6,500.1 715.0,498.9 718.3,498.8 721.7,499.3 725.1,499.5 728.5,494.8 731.8,479.3 735.2,469.3 738.6,463.5 742.0,458.2 745.3,455.9 748.7,454.2 752.1,455.5 755.4,451.0 758.8,451.4 762.2,449.7 765.6,447.4 768.9,423.7 772.3,425.6 775.7,427.8 779.1,427.2 782.4,424.6 785.8,421.9 789.2,419.7 792.6,417.8 795.9,415.6 799.3,413.4 802.7,410.9 806.0,408.3 809.4,405.6 812.8,402.7 816.2,399.8" fill="none" stroke="#54595D" stroke-width="2.5" stroke-linejoin="round"/>
<line x1="782.4" y1="374.5" x2="782.4" y2="517.6" stroke="#222" stroke-width="1.2" stroke-dasharray="2.8 2.2"/>
<line x1="782.4" y1="424.6" x2="815" y2="388" stroke="#C8282D" stroke-width="2.1" stroke-dasharray="5.2 2.6"/>
<circle cx="782.4" cy="424.5" r="3.2" fill="#338AEA"/>
<circle cx="816" cy="386" r="3.5" fill="#C8282D"/>
<circle cx="817" cy="395.1" r="3.5" fill="#338AEA"/>
<text x="754.4" y="373" font-size="8.5" font-weight="bold" fill="#C8282D" text-anchor="middle" textLength="21" lengthAdjust="spacingAndGlyphs" >TCJA</text>
<text x="753.7" y="383.4" font-size="8.5" font-weight="bold" fill="#C8282D" text-anchor="middle" textLength="44.5" lengthAdjust="spacingAndGlyphs" >extension*</text>
<text x="811.8" y="374.9" font-size="7.4" font-weight="bold" fill="#C8282D" text-anchor="end" textLength="19" lengthAdjust="spacingAndGlyphs" >2034:</text>
<text x="812.1" y="383.2" font-size="7.4" font-weight="bold" fill="#C8282D" text-anchor="end" textLength="26.2" lengthAdjust="spacingAndGlyphs" >129.9%</text>
<text x="775" y="407.2" font-size="7.4" font-weight="bold" fill="#338AEA" text-anchor="end" textLength="19" lengthAdjust="spacingAndGlyphs" >2024:</text>
<text x="775" y="415.7" font-size="7.4" font-weight="bold" fill="#338AEA" text-anchor="end" textLength="22.1" lengthAdjust="spacingAndGlyphs" >98.2%</text>
<text x="819.9" y="422.3" font-size="7.4" font-weight="bold" fill="#338AEA" text-anchor="end" textLength="19" lengthAdjust="spacingAndGlyphs" >2034:</text>
<text x="820.2" y="430.8" font-size="7.4" font-weight="bold" fill="#338AEA" text-anchor="end" textLength="26.2" lengthAdjust="spacingAndGlyphs" >119.1%</text>
<text x="784.8" y="490.6" font-size="8.8" font-weight="bold" fill="#111" text-anchor="start" textLength="37.5" lengthAdjust="spacingAndGlyphs" >Forecast</text>
<line x1="785" y1="498.2" x2="811" y2="498.2" stroke="#666" stroke-width="1"/><polygon points="810.3,495 817.2,498.2 810.3,501.4" fill="#111"/>
<text x="714" y="595" style="font-family:'Liberation Serif',serif" font-size="25.6" fill="#111" stroke="#111" stroke-width="0.45" textLength="115.5" lengthAdjust="spacingAndGlyphs">J.P.Morgan</text>
<text x="715" y="617" font-size="10.8" font-weight="bold" fill="#111" text-anchor="start" textLength="114.5" lengthAdjust="spacingAndGlyphs" >ASSET MANAGEMENT</text>
</svg>
<div id="foot"><div class="fl">Source: CBO, J.P. Morgan Asset Management; (Left) Numbers may not sum to 100% due to rounding; (Top and bottom right) BEA, Treasury Department. Estimates are</div><div class="fl">from the Congressional Budget Office (CBO) June 2024 An Update to the Budget Outlook: 2024 to 2034. “Other” spending includes, but is not limited to, health insurance</div><div class="fl">subsidies, income security and federal civilian and military retirement. Years shown are fiscal years. All CBO estimates are adjusted by JPMAM to reflect GDP revisions</div><div class="fl">resulting from the 2024 annual update of the National Economic Accounts. *Adjusted by JPMAM to include estimates from the CBO May 2024 report “Budgetary</div><div class="fl">Outcomes Under Alternative Assumptions About Spending and Revenues” on the extension of TCJA provisions. Forecasts are not a reliable indicator of future</div><div class="fl">performance. Forecasts, projections and other forward-looking statements are based upon current beliefs and expectations. They are for illustrative purposes only and</div><div class="fl">serve as an indication of what may occur. Given the inherent uncertainties and risks associated with forecasts, projections or other forward-looking statements, actual</div><div class="fl last">events, results or performance may differ materially from those reflected or contemplated.</div><div class="fl last" style="letter-spacing:0"><i>Guide to the Markets – U.S.</i> Data are as of December 31, 2024.</div></div>
</body></html>
